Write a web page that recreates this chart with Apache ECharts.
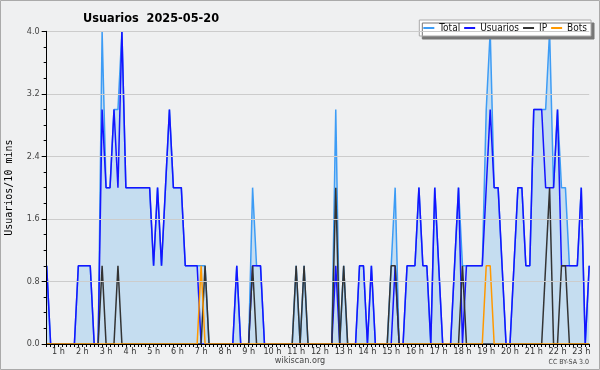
<!DOCTYPE html>
<html>
<head>
<meta charset="utf-8">
<script src="https://cdn.jsdelivr.net/npm/echarts@6/dist/echarts.min.js"></script>
<style>
html,body{margin:0;padding:0;background:#eff0f1;}
#chart{width:600px;height:370px;}
</style>
</head>
<body>
<div id="chart"></div>
<script>
// hour tick labels (placed at the middle of each hour bin)
const hourLabels = ['1 h','2 h','3 h','4 h','5 h','6 h','7 h','8 h','9 h','10 h','11 h','12 h',
  '13 h','14 h','15 h','16 h','17 h','18 h','19 h','20 h','21 h','22 h','23 h'];

// 10-minute samples, 00:00 .. 22:50
const totalValues = [
  1,0,0,0,0,0,0,0,1,1,1,1,
  0,0,4,2,2,3,3,4,2,2,2,2,
  2,2,2,1,2,1,2,3,2,2,2,1,
  1,1,1,1,1,0,0,0,0,0,0,0,
  1,0,0,0,2,1,1,0,0,0,0,0,
  0,0,0,1,0,1,0,0,0,0,0,0,
  0,3,0,1,0,0,0,1,1,0,1,0,
  0,0,0,1,2,0,0,1,1,1,2,1,
  1,0,2,1,0,0,0,1,2,1,1,1,
  1,1,1,3,4,2,2,1,0,0,1,2,
  2,1,1,3,3,3,3,4,2,3,2,2,
  1,1,1,2,0,1
];
const usuariosValues = [
  1,0,0,0,0,0,0,0,1,1,1,1,
  0,0,3,2,2,3,2,4,2,2,2,2,
  2,2,2,1,2,1,2,3,2,2,2,1,
  1,1,1,0,0,0,0,0,0,0,0,0,
  1,0,0,0,1,1,1,0,0,0,0,0,
  0,0,0,0,0,0,0,0,0,0,0,0,
  0,1,0,0,0,0,0,1,1,0,1,0,
  0,0,0,0,1,0,0,1,1,1,2,1,
  1,0,2,1,0,0,0,1,2,0,1,1,
  1,1,1,2,3,2,2,1,0,0,1,2,
  2,1,1,3,3,3,2,2,2,3,1,1,
  1,1,1,2,0,1
];
const ipValues = [
  0,0,0,0,0,0,0,0,0,0,0,0,
  0,0,1,0,0,0,1,0,0,0,0,0,
  0,0,0,0,0,0,0,0,0,0,0,0,
  0,0,0,0,1,0,0,0,0,0,0,0,
  0,0,0,0,1,0,0,0,0,0,0,0,
  0,0,0,1,0,1,0,0,0,0,0,0,
  0,2,0,1,0,0,0,0,0,0,0,0,
  0,0,0,1,1,0,0,0,0,0,0,0,
  0,0,0,0,0,0,0,0,0,1,0,0,
  0,0,0,0,0,0,0,0,0,0,0,0,
  0,0,0,0,0,0,1,2,0,0,1,1,
  0,0,0,0,0,0
];
const botsValues = [
  0,0,0,0,0,0,0,0,0,0,0,0,
  0,0,0,0,0,0,0,0,0,0,0,0,
  0,0,0,0,0,0,0,0,0,0,0,0,
  0,0,0,1,0,0,0,0,0,0,0,0,
  0,0,0,0,0,0,0,0,0,0,0,0,
  0,0,0,0,0,0,0,0,0,0,0,0,
  0,0,0,0,0,0,0,0,0,0,0,0,
  0,0,0,0,0,0,0,0,0,0,0,0,
  0,0,0,0,0,0,0,0,0,0,0,0,
  0,0,0,1,1,0,0,0,0,0,0,0,
  0,0,0,0,0,0,0,0,0,0,0,0,
  0,0,0,0,0,0
];

const categories = [];
for (let i = 0; i < totalValues.length; i++) {
  const m = i * 10;
  categories.push(String(Math.floor(m / 60)).padStart(2, '0') + ':' + String(m % 60).padStart(2, '0'));
}

const FONT = "'DejaVu Sans Condensed', 'DejaVu Sans', sans-serif";
const chart = echarts.init(document.getElementById('chart'), null, {renderer: 'canvas'});

function lineSeries(name, data, color, extra) {
  return Object.assign({
    name: name, type: 'line', data: data, symbol: 'none', showSymbol: false,
    animation: false, smooth: false,
    lineStyle: {color: color, width: 1.5},
    itemStyle: {color: color},
    emphasis: {disabled: true}
  }, extra || {});
}

chart.setOption({
  animation: false,
  backgroundColor: '#eff0f1',
  textStyle: {fontFamily: FONT},
  title: [
    {text: 'Usuarios  2025-05-20', left: 83, top: 12, padding: 0,
     textStyle: {fontFamily: FONT, fontSize: 12.6, fontWeight: 'bold', color: '#000'}},
    {text: 'wikiscan.org', left: 'center', top: 356, padding: 0,
     textStyle: {fontFamily: FONT, fontSize: 9, fontWeight: 'normal', color: '#444'}},
    {text: 'CC BY-SA 3.0', right: 11, top: 359, padding: 0,
     textStyle: {fontFamily: FONT, fontSize: 7, fontWeight: 'normal', color: '#444'}}
  ],
  legend: {
    data: ['Total', 'Usuarios', 'IP', 'Bots'],
    right: 9, top: 20, orient: 'horizontal',
    padding: [3, 4, 3, 4],
    itemWidth: 11, itemHeight: 2, itemGap: 4,
    icon: 'rect',
    backgroundColor: '#ffffff', borderColor: '#aaaaaa', borderWidth: 1, borderRadius: 0,
    shadowColor: '#777777', shadowBlur: 0, shadowOffsetX: 3, shadowOffsetY: 3,
    textStyle: {fontFamily: FONT, fontSize: 10, color: '#111', padding: [0, 0, 0, 0]},
    selectedMode: false
  },
  grid: {left: 46.67, right: 10.8, top: 31.3, bottom: 26, containLabel: false, outerBoundsMode: 'none'},
  xAxis: {
    type: 'category', data: categories, boundaryGap: false, z: 10,
    axisLine: {show: true, lineStyle: {color: '#000', width: 1}},
    axisTick: {show: true, interval: 0, length: 3, inside: false, lineStyle: {color: '#000', width: 1}},
    axisLabel: {
      interval: function (idx) { return idx % 6 === 3; },
      formatter: function (val, idx) { return hourLabels[(idx - 3) / 6] || ''; },
      fontFamily: FONT, fontSize: 9, color: '#333', margin: 3
    },
    splitLine: {show: false}
  },
  yAxis: {
    type: 'value', min: 0, max: 4, interval: 0.8, z: 10,
    name: 'Usuarios/10 mins', nameLocation: 'middle', nameGap: 32, nameRotate: 90,
    nameTextStyle: {fontFamily: "'DejaVu Sans Mono', monospace", fontSize: 10, color: '#000'},
    axisLine: {show: true, lineStyle: {color: '#000', width: 1}},
    axisTick: {show: true, length: 5, inside: false, lineStyle: {color: '#000'}},
    minorTick: {show: true, splitNumber: 4, length: 3, lineStyle: {color: '#000'}},
    axisLabel: {formatter: function (v) { return v.toFixed(1); }, fontFamily: FONT, fontSize: 9, color: '#444', margin: 7},
    splitLine: {show: true, lineStyle: {color: '#cccccc', width: 1}}
  },
  series: [
    lineSeries('Total', totalValues, '#3d9cf5', {areaStyle: {color: '#c5ddf0', opacity: 1}, z: 1}),
    lineSeries('Usuarios', usuariosValues, '#1414ff', {z: 2}),
    lineSeries('IP', ipValues, '#333333', {z: 3}),
    lineSeries('Bots', botsValues, '#ff9900', {z: 4})
  ],
  graphic: [
    {type: 'rect', shape: {x: 0.5, y: 0.5, width: 599, height: 369}, silent: true,
     style: {fill: 'none', stroke: '#aaaaaa', lineWidth: 1}, z: 100}
  ]
});
</script>
</body>
</html>
